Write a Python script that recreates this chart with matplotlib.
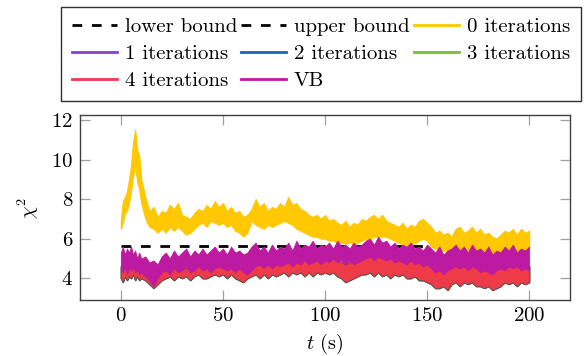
import numpy as np
import matplotlib
matplotlib.use("Agg")
import matplotlib.pyplot as plt

plt.rcParams['font.family'] = ['cmr10', 'DejaVu Serif']
plt.rcParams['mathtext.fontset'] = 'cm'
plt.rcParams['axes.formatter.use_mathtext'] = True

# time grid (s)
t = [0, 1, 2, 3, 4, 5, 6, 7, 8, 9, 10] + list(range(12, 201, 2))

lower_bound = 4.42
upper_bound = 5.62

# 0 iterations (yellow band, low / high edge)
it0_lo = [6.5, 6.8, 7.3, 7.4, 7.8, 8.4, 9.2, 9.6, 8.9, 8.5, 7.8,
          7.0, 6.6, 6.5, 6.3, 6.5, 6.3, 6.6, 6.4, 6.6, 6.4, 6.2, 6.3, 6.5, 6.7,
          6.8, 6.6, 6.9, 6.8, 6.7,
          6.8, 6.6, 6.7, 6.4, 6.3, 6.1, 6.3, 6.9, 6.7, 6.6, 6.5, 6.7, 6.6,
          6.7, 6.8, 6.9, 6.8, 6.7, 6.5, 6.4, 6.3, 6.2, 6.1, 6.1, 6.0, 6.0,
          5.9, 5.9, 5.8, 5.8, 5.75, 5.8, 5.7, 5.8, 5.9, 6.0, 6.0, 6.1, 6.1,
          6.1, 6.1, 6.0, 5.9, 5.8, 5.7, 5.7, 5.8, 5.75, 5.9, 6.0, 5.9,
          5.6, 5.5, 5.4, 5.4, 5.4, 5.3, 5.4, 5.4, 5.5, 5.4, 5.4, 5.4, 5.3,
          5.3, 5.3, 5.2, 5.2, 5.2, 5.3, 5.4, 5.4, 5.3, 5.4, 5.4, 5.5]
it0_hi = [6.9, 7.9, 8.1, 8.4, 9.0, 9.7, 10.9, 11.5, 10.5, 10.2, 9.0,
          8.1, 7.4, 7.6, 7.1, 7.4, 7.3, 7.7, 7.5, 7.8, 7.2, 7.1, 7.0, 7.3, 7.5,
          7.4, 7.7, 7.5, 7.9, 7.6,
          7.8, 7.4, 7.6, 7.3, 7.4, 7.1, 7.2, 7.5, 8.0, 7.6, 7.8, 7.4, 7.6,
          7.5, 7.8, 7.6, 8.1, 7.7, 7.8, 7.5, 7.4, 7.2, 7.1, 7.2, 7.0, 7.2,
          6.9, 7.0, 6.8, 6.7, 6.9, 6.6, 6.8, 6.7, 7.0, 6.9, 7.1, 7.2, 7.0,
          7.2, 6.9, 6.8, 6.7, 6.6, 6.8, 6.5, 6.7, 6.6, 6.9, 7.0, 6.8,
          6.6, 6.3, 6.4, 6.2, 6.3, 6.1, 6.5, 6.6, 6.3, 6.4, 6.6, 6.3, 6.5,
          6.2, 6.3, 6.1, 6.0, 6.2, 6.4, 6.3, 6.5, 6.2, 6.5, 6.3, 6.4]

# 1-4 iterations (they lie on top of each other)
it_lo = [4.0, 3.8, 4.1, 3.9, 4.1, 4.0, 4.2, 3.9, 4.1, 3.9, 4.0,
         3.9, 3.7, 3.5, 3.7, 3.9, 4.0, 4.1, 3.9, 4.1, 4.0, 4.1, 3.9, 4.1, 4.2,
         4.0, 4.0, 4.1, 4.2, 4.1,
         4.2, 4.0, 4.2, 4.0, 3.9, 3.8, 4.0, 4.1, 4.2, 4.0, 4.2, 4.0, 4.2,
         4.1, 4.2, 4.3, 4.1, 4.3, 4.2, 4.3, 4.1, 4.3, 4.1, 4.3, 4.2, 4.3,
         4.2, 4.3, 4.1, 4.0, 3.8, 3.9, 4.0, 4.1, 4.2, 4.2, 4.3, 4.1, 4.3,
         4.1, 4.2, 4.0, 4.2, 4.1, 4.2, 4.0, 4.0, 4.1, 3.9, 3.9, 3.8,
         3.7, 3.5, 3.5, 3.6, 3.4, 3.7, 3.8, 3.6, 3.8, 3.7, 3.8, 3.6, 3.6,
         3.5, 3.6, 3.4, 3.5, 3.6, 3.8, 3.7, 3.8, 3.6, 3.8, 3.7, 3.8]
it_hi = [4.6, 4.8, 4.5, 4.7, 4.6, 4.8, 4.5, 4.6, 4.4, 4.6, 4.4,
         4.4, 4.2, 4.2, 4.4, 4.5, 4.7, 4.5, 4.7, 4.5, 4.6, 4.5, 4.7, 4.6, 4.8,
         4.6, 4.8, 4.7, 4.8, 4.7,
         4.9, 4.7, 4.8, 4.6, 4.6, 4.5, 4.6, 4.8, 4.9, 4.7, 4.9, 4.7, 4.9,
         4.8, 4.9, 5.0, 4.9, 5.1, 5.0, 5.1, 4.9, 5.1, 5.0, 5.1, 5.0, 5.1,
         5.1, 5.0, 4.9, 4.8, 4.7, 4.8, 4.9, 5.0, 5.1, 5.2, 5.3, 5.1, 5.3,
         5.1, 5.2, 5.0, 5.1, 4.9, 5.1, 4.9, 4.9, 5.0, 4.8, 4.8, 4.7,
         4.6, 4.5, 4.4, 4.5, 4.4, 4.6, 4.7, 4.6, 4.8, 4.6, 4.7, 4.6, 4.5,
         4.6, 4.5, 4.4, 4.5, 4.6, 4.7, 4.6, 4.7, 4.6, 4.7, 4.6, 4.6]

# VB
vb_lo = [4.5, 4.3, 4.6, 4.2, 4.5, 4.4, 4.6, 4.3, 4.4, 4.2, 4.3,
         4.1, 3.9, 3.6, 4.0, 4.3, 4.4, 4.2, 4.5, 4.3, 4.4, 4.6, 4.3, 4.4, 4.6,
         4.4, 4.5, 4.3, 4.5, 4.6,
         4.5, 4.4, 4.5, 4.3, 4.5, 4.3, 4.2, 4.4, 4.6, 4.7, 4.5, 4.7, 4.5,
         4.7, 4.6, 4.7, 4.8, 4.6, 4.8, 4.7, 4.9, 4.7, 4.8, 4.9, 4.7, 4.9,
         4.8, 5.0, 4.8, 4.9, 4.7, 4.9, 4.7, 4.8, 4.9, 5.0, 5.1, 4.9, 5.1,
         5.0, 4.9, 5.0, 4.8, 4.9, 4.8, 4.7, 4.9, 4.7, 4.8, 4.6, 4.7,
         4.5, 4.3, 4.4, 4.2, 4.4, 4.5, 4.6, 4.5, 4.6, 4.4, 4.6, 4.5, 4.3,
         4.4, 4.3, 4.2, 4.4, 4.5, 4.4, 4.6, 4.5, 4.6, 4.4, 4.5, 4.4]
vb_hi = [5.3, 5.6, 5.2, 5.5, 5.3, 5.6, 5.2, 5.4, 5.0, 5.3, 5.0,
         5.1, 4.8, 4.9, 4.7, 5.1, 5.3, 5.0, 5.4, 5.1, 5.3, 5.5, 5.1, 5.4, 5.2,
         5.5, 5.2, 5.4, 5.6, 5.3,
         5.5, 5.2, 5.6, 5.3, 5.4, 5.2, 5.3, 5.6, 5.8, 5.4, 5.6, 5.3, 5.7,
         5.4, 5.6, 5.5, 5.8, 5.4, 5.9, 5.5, 5.7, 5.6, 5.9, 5.5, 5.7, 5.6,
         5.8, 5.5, 5.9, 5.6, 5.7, 5.5, 5.8, 5.6, 5.7, 5.9, 6.0, 5.7, 6.1,
         5.8, 5.9, 5.6, 5.8, 5.5, 5.7, 5.6, 5.8, 5.5, 5.6, 5.4, 5.7,
         5.5, 5.3, 5.6, 5.2, 5.4, 5.5, 5.7, 5.4, 5.6, 5.3, 5.7, 5.4, 5.5,
         5.3, 5.6, 5.2, 5.4, 5.3, 5.6, 5.4, 5.7, 5.3, 5.5, 5.4, 5.6]

c_yellow = '#FFC800'
c_purple = '#7F45C6'
c_blue = '#1466C0'
c_green = '#7FBF30'
c_red = '#EF3A48'
c_vb = '#BC1AA0'

fig = plt.figure(figsize=(5.87, 3.56), dpi=100)
ax = fig.add_axes([80 / 587, 56 / 356, 490 / 587, 185 / 356])

t_arr = np.array(t)
ax.plot([0, 200], [lower_bound, lower_bound], 'k--', lw=2, dashes=(3.5, 3.5),
        label='lower bound', zorder=1)
ax.plot([0, 200], [upper_bound, upper_bound], 'k--', lw=2, dashes=(3.5, 3.5),
        label='upper bound', zorder=1)

ax.fill_between(t_arr, it0_lo, it0_hi, color=c_yellow, lw=0.8, edgecolor=c_yellow, zorder=2)
ax.plot([], [], color=c_yellow, lw=2, label='0 iterations')

# 1, 2, 3 iterations hidden under 4 iterations
for col, lab in [(c_purple, '1 iterations'), (c_blue, '2 iterations'),
                 (c_green, '3 iterations')]:
    ax.fill_between(t_arr, it_lo, it_hi, color=col, lw=0.8, edgecolor='#5a5a5a', zorder=3)
    ax.plot([], [], color=col, lw=2, label=lab)

ax.fill_between(t_arr, it_lo, it_hi, color=c_red, lw=0.6, edgecolor='#6a5550', zorder=4)
ax.plot([], [], color=c_red, lw=2, label='4 iterations')

ax.fill_between(t_arr, vb_lo, vb_hi, color=c_vb, lw=0.6, edgecolor=c_vb, zorder=5)
ax.plot([], [], color=c_vb, lw=2, label='VB')

ax.set_xlim(-20, 220)
ax.set_ylim(2.9, 12.25)
ax.set_xticks([0, 50, 100, 150, 200])
ax.set_yticks([4, 6, 8, 10, 12])
ax.tick_params(direction='in', length=7.5, width=0.9, color='#a0a0a0',
               top=True, right=True, labelsize=15, pad=5)
for s in ax.spines.values():
    s.set_color('#404040')
    s.set_linewidth(1.0)

ax.set_xlabel(r'$t$ (s)', fontsize=14.5, labelpad=5)
ax.set_ylabel(r'$\chi^2$', fontsize=14.5, labelpad=7)

handles, labels = ax.get_legend_handles_labels()
order = ['lower bound', '1 iterations', '4 iterations',
         'upper bound', '2 iterations', 'VB',
         '0 iterations', '3 iterations']
hmap = dict(zip(labels, handles))
leg = fig.legend([hmap[k] for k in order], order, ncol=3,
                 loc='upper left', bbox_to_anchor=(61 / 587, 1 - 7 / 356, 520 / 587, 0),
                 mode='expand', borderaxespad=0, fontsize=15, frameon=True,
                 fancybox=False, edgecolor='#303030', framealpha=1,
                 handlelength=2.15, handletextpad=0.38, columnspacing=0.3,
                 labelspacing=0.4, borderpad=0.52)
leg.get_frame().set_linewidth(1.0)

fig.savefig('out.png', dpi=100)
